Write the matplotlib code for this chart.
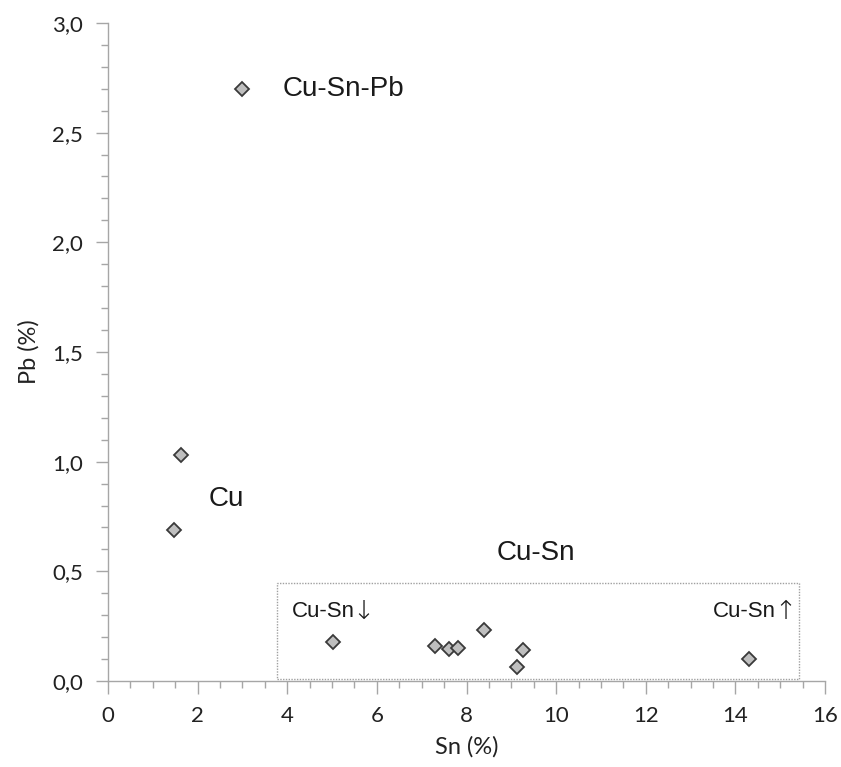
import numpy as np
from matplotlib import pyplot as plt
from matplotlib.patches import Rectangle
from matplotlib.ticker import MultipleLocator, FuncFormatter

# Sn / Pb content of the samples (%)
sn = [2.98, 1.64, 1.48, 5.01, 7.30, 7.61, 7.82, 8.40, 9.25, 9.12, 14.3]
pb = [2.70, 1.03, 0.69, 0.18, 0.16, 0.147, 0.149, 0.233, 0.14, 0.063, 0.10]

# group labels: text, x, y, size
labels = [
    ('Cu-Sn-Pb', 3.9, 2.70, 20, 'left'),
    ('Cu', 2.25, 0.83, 20, 'left'),
    ('Cu-Sn', 9.55, 0.585, 20, 'center'),
]
# sub-group labels, arrow drawn separately
sub_labels = [
    ('Cu-Sn', '\u2193', 4.1, 0.316),
    ('Cu-Sn', '\u2191', 13.5, 0.316),
]
box = (3.77, 0.01, 15.43, 0.447)

lab_font = ['Liberation Sans', 'DejaVu Sans']
tick_font = ['Lato', 'DejaVu Sans']

fig = plt.figure(figsize=(8.41, 7.67), dpi=100)
ax = fig.add_axes([0.1284, 0.1121, 0.8526, 0.858])

ax.plot(sn, pb, linestyle='none', marker='D', markersize=7.2,
        markerfacecolor='#bfbfbf', markeredgecolor='#3a3a3a', markeredgewidth=1.3,
        zorder=3)

for txt, x, y, size, ha in labels:
    ax.text(x, y, txt, fontsize=size, ha=ha, va='center', color='#1a1a1a',
            family=lab_font)

for txt, arrow, x, y in sub_labels:
    t = ax.text(x, y, txt, fontsize=16, ha='left', va='center', color='#1a1a1a',
                family=lab_font)
    ax.annotate(arrow, xy=(1, 0.5), xycoords=t, xytext=(-1.5, 0),
                textcoords='offset points', ha='left', va='center',
                fontsize=19, color='#1a1a1a', family=['DejaVu Sans'],
                fontweight='light')

ax.add_patch(Rectangle((box[0], box[1]), box[2] - box[0], box[3] - box[1],
                       fill=False, edgecolor='#a0a0a0', linestyle=(0, (1, 1)),
                       linewidth=1.0, zorder=1))

ax.set_xlim(0, 16)
ax.set_ylim(0, 3.0)
ax.xaxis.set_major_locator(MultipleLocator(2))
ax.xaxis.set_minor_locator(MultipleLocator(0.5))
ax.yaxis.set_major_locator(MultipleLocator(0.5))
ax.yaxis.set_minor_locator(MultipleLocator(0.1))
ax.yaxis.set_major_formatter(FuncFormatter(lambda v, p: ('%.1f' % v).replace('.', ',')))
ax.xaxis.set_major_formatter(FuncFormatter(lambda v, p: '%d' % v))

for s in ['top', 'right']:
    ax.spines[s].set_visible(False)
for s in ['left', 'bottom']:
    ax.spines[s].set_color('#a6a6a6')
    ax.spines[s].set_linewidth(1.0)

ax.tick_params(which='major', length=9, color='#a6a6a6', width=1.0,
               labelsize=16, labelcolor='#222222', pad=9)
ax.tick_params(which='minor', length=5, color='#a6a6a6', width=1.0)
for t in ax.get_xticklabels() + ax.get_yticklabels():
    t.set_family(tick_font)

ax.set_xlabel('Sn (%)', fontsize=17, color='#222222', family=tick_font, labelpad=7)
ax.set_ylabel('Pb (%)', fontsize=17, color='#222222', family=tick_font, labelpad=9)

fig.savefig('out.png', dpi=100)
